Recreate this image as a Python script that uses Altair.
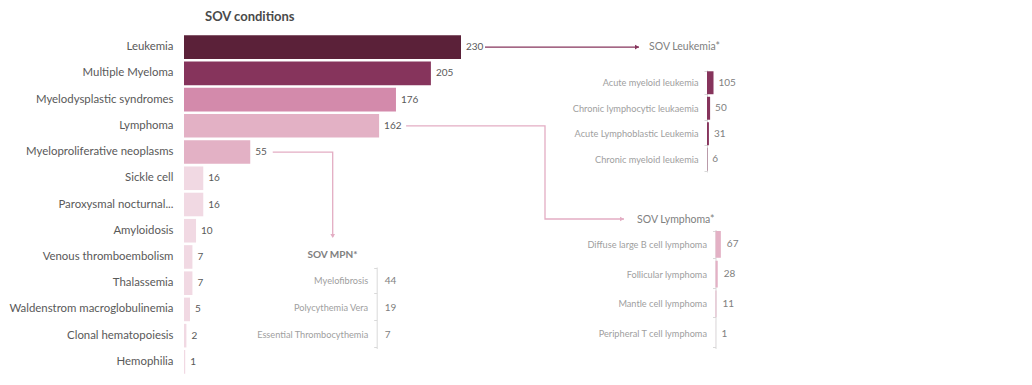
import altair as alt
import pandas as pd

# ---------------- data ----------------
conditions = ["Leukemia", "Multiple Myeloma", "Myelodysplastic syndromes", "Lymphoma",
              "Myeloproliferative neoplasms", "Sickle cell", "Paroxysmal nocturnal...",
              "Amyloidosis", "Venous thromboembolism", "Thalassemia",
              "Waldenstrom macroglobulinemia", "Clonal hematopoiesis", "Hemophilia"]
condition_counts = [230, 205, 176, 162, 55, 16, 16, 10, 7, 7, 5, 2, 1]

leukemia_types = ["Acute myeloid leukemia", "Chronic lymphocytic leukaemia",
                  "Acute Lymphoblastic Leukemia", "Chronic myeloid leukemia"]
leukemia_counts = [105, 50, 31, 6]

lymphoma_types = ["Diffuse large B cell lymphoma", "Follicular lymphoma",
                  "Mantle cell lymphoma", "Peripheral T cell lymphoma"]
lymphoma_counts = [67, 28, 11, 1]

mpn_types = ["Myelofibrosis", "Polycythemia Vera", "Essential Thrombocythemia"]
mpn_counts = [44, 19, 7]

# ---------------- styles ----------------
main_palette = ["#5b2139", "#86345c", "#d38aab", "#e3b1c5", "#e3b1c5"] + ["#f1d9e3"] * 8
FONT = "Lato"
DARK = "#595959"
MID = "#808080"
LIGHT = "#a0a0a0"
AXIS_C = "#d9d9d9"

W, H = 830, 341          # plot area
PAD_L, PAD_T = 176, 26   # page margin is 8 -> plot origin at (184, 34)

main_df = pd.DataFrame({"cond": conditions, "val": condition_counts,
                        "color": main_palette})
leuk_df = pd.DataFrame({"cat": leukemia_types, "val": leukemia_counts})
lymph_df = pd.DataFrame({"cat": lymphoma_types, "val": lymphoma_counts})
mpn_df = pd.DataFrame({"cat": mpn_types, "val": mpn_counts})

# main scales
main_x = alt.Scale(domain=[0, 230], range=[0, 277])
main_y = alt.Scale(domain=conditions, range=[0, H], paddingInner=0.1, paddingOuter=0.05)

main_bars = alt.Chart(main_df).mark_bar().encode(
    y=alt.Y("cond:N", sort=conditions, scale=main_y,
            axis=alt.Axis(title=None, domain=False, ticks=False, labelPadding=11,
                          labelFont=FONT, labelFontSize=11.4, labelColor=DARK,
                          labelLimit=250, grid=False)),
    x=alt.X("val:Q", scale=main_x, axis=None),
    color=alt.Color("color:N", scale=None),
)
main_text = alt.Chart(main_df).mark_text(
    align="left", baseline="middle", dx=5, font=FONT, fontSize=10, color=DARK
).encode(
    y=alt.Y("cond:N", sort=conditions, scale=main_y, axis=None),
    x=alt.X("val:Q", scale=main_x, axis=None),
    text="val:Q",
)


def panel_axis(axis_x):
    return alt.Axis(title=None, orient="left", offset=-axis_x,
                    domain=True, domainColor=AXIS_C, ticks=True,
                    tickBand="extent", tickColor=AXIS_C, tickSize=3,
                    labelPadding=6, labelFont=FONT, labelFontSize=9.2,
                    labelColor=LIGHT, labelLimit=250, grid=False)


def panel(df, cats, band_range, axis_x, px_per_unit, bar_color, label_dx, draw_bars=True):
    xs = alt.Scale(domain=[0, max(df["val"])],
                   range=[axis_x, axis_x + px_per_unit * max(df["val"])])
    ys = alt.Scale(domain=cats, range=band_range, paddingInner=0.1, paddingOuter=0.05)
    layers = []
    if draw_bars:
        layers.append(alt.Chart(df).mark_bar(color=bar_color).encode(
            y=alt.Y("cat:N", sort=cats, scale=ys, axis=panel_axis(axis_x)),
            x=alt.X("val:Q", scale=xs, axis=None),
        ))
        text_axis = None
    else:
        text_axis = panel_axis(axis_x)
    layers.append(alt.Chart(df).mark_text(
        align="left", baseline="middle", dx=label_dx, font=FONT, fontSize=10, color=MID
    ).encode(
        y=alt.Y("cat:N", sort=cats, scale=ys, axis=text_axis),
        x=alt.X("val:Q", scale=xs, axis=None),
        text="val:Q",
    ))
    return layers


leuk_layers = panel(leuk_df, leukemia_types, [36, 138], 523, 0.062, "#86345c", 5)
lymph_layers = panel(lymph_df, lymphoma_types, [195.5, 314.5], 531.5, 0.08, "#e3b1c5", 6)
mpn_layers = panel(mpn_df, mpn_types, [233, 314.5], 192.7, 0.0, "#e3b1c5", 8, draw_bars=False)

# ---------------- connectors & panel titles (pixel layer) ----------------
step = H / (len(conditions) - 0.1 + 2 * 0.05)
def main_center(name):
    i = conditions.index(name)
    return step * 0.05 + i * step + step * 0.9 / 2

def main_end(v):
    return 277 * v / 230

y_leuk = main_center("Leukemia")
y_lymph = main_center("Lymphoma")
y_mpn = main_center("Myeloproliferative neoplasms")

conn_rows = []
def add_path(name, pts, color):
    for k, (x, y) in enumerate(pts):
        conn_rows.append({"path": name, "order": k, "x": x, "y": y, "c": color})

add_path("leuk", [(main_end(230) + 24, y_leuk), (455, y_leuk)], "#86345c")
add_path("lymph", [(main_end(162) + 27, y_lymph), (361, y_lymph), (361, 185), (440, 185)], "#e3adc3")
add_path("mpn", [(main_end(55) + 22.5, y_mpn), (148.7, y_mpn), (148.7, 203)], "#e3adc3")
conn_df = pd.DataFrame(conn_rows)

heads_df = pd.DataFrame([
    {"x": 453, "y": y_leuk, "shape": "triangle-right", "c": "#86345c"},
    {"x": 438, "y": 185, "shape": "triangle-right", "c": "#e3adc3"},
    {"x": 148.7, "y": 202, "shape": "triangle-down", "c": "#e3adc3"},
])

titles_df = pd.DataFrame([
    {"t": "SOV Leukemia*", "x": 465, "y": y_leuk, "align": "left"},
    {"t": "SOV Lymphoma*", "x": 453, "y": 186, "align": "left"},
    {"t": "SOV MPN*", "x": 148.5, "y": 221, "align": "center"},
])

px = alt.Scale(domain=[0, W], range=[0, W])
py = alt.Scale(domain=[0, H], range=[0, H])

conn = alt.Chart(conn_df).mark_line(strokeWidth=1.3, interpolate="linear").encode(
    x=alt.X("x:Q", scale=px, axis=None),
    y=alt.Y("y:Q", scale=py, axis=None),
    detail="path:N",
    order="order:Q",
    color=alt.Color("c:N", scale=None),
)
heads = alt.Chart(heads_df).mark_point(filled=True, size=22, opacity=1).encode(
    x=alt.X("x:Q", scale=px, axis=None),
    y=alt.Y("y:Q", scale=py, axis=None),
    shape=alt.Shape("shape:N", scale=None),
    color=alt.Color("c:N", scale=None),
)
t_left = alt.Chart(titles_df[titles_df["align"] == "left"]).mark_text(
    align="left", baseline="middle", font=FONT, fontSize=10.5, color=MID
).encode(
    x=alt.X("x:Q", scale=px, axis=None),
    y=alt.Y("y:Q", scale=py, axis=None),
    text="t:N",
)
t_center = alt.Chart(titles_df[titles_df["align"] == "center"]).mark_text(
    align="center", baseline="middle", font=FONT, fontSize=10, fontWeight="bold", color=MID
).encode(
    x=alt.X("x:Q", scale=px, axis=None),
    y=alt.Y("y:Q", scale=py, axis=None),
    text="t:N",
)

chart = alt.layer(
    main_bars, main_text, *leuk_layers, *lymph_layers, *mpn_layers,
    conn, heads, t_left, t_center
).resolve_scale(
    x="independent", y="independent"
).properties(
    width=W, height=H,
    title=alt.TitleParams("SOV conditions", anchor="start", frame="group", dx=21,
                          offset=6, font=FONT, fontSize=13, fontWeight="bold",
                          color="#4a4a4a"),
    autosize=alt.AutoSizeParams(type="none"),
    padding={"left": PAD_L, "top": PAD_T, "right": 2, "bottom": 0},
).configure_view(stroke=None).configure_axis(grid=False)

chart.save("out.html", embed_options={"renderer": "svg", "actions": False})
